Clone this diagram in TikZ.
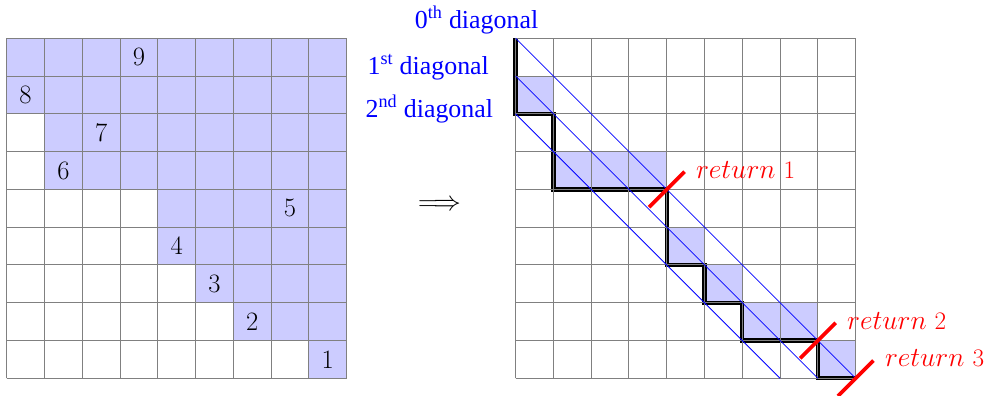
\documentclass[tikz,border=0pt]{standalone}
\usepackage{fontspec}
\newfontfamily\timesf{Liberation Serif}
\begin{document}
\begin{tikzpicture}[x=1cm,y=1cm,
  cellfill/.style={fill=blue!20},
  gridline/.style={draw=gray, line width=0.7pt},
  num/.style={font=\fontsize{20}{24}\selectfont, inner sep=0pt},
  diaglabel/.style={font=\timesf\fontsize{19.5}{23}\selectfont, text=blue, inner sep=0pt},
  retlabel/.style={text=red, inner sep=0pt, anchor=base west, font=\fontsize{20}{24}\selectfont},
  retmark/.style={draw=red, line width=2.8pt},
  diagline/.style={draw=blue, line width=0.6pt},
  stairpath/.style={draw=black, line width=3.2pt},
]
\useasboundingbox (-0.177,-0.442) rectangle (25.92,10.013);

% ---------- left grid ----------
\foreach \r/\c in {0/0,1/0,2/1,3/1,4/4,5/4,6/5,7/6,8/8}
  \fill[cellfill] (\c,8-\r) rectangle (9,9-\r);
\draw[gridline] (0,0) grid (9,9);
\foreach \n/\c/\r in {9/3/0,8/0/1,7/2/2,6/1/3,5/7/4,4/4/5,3/5/6,2/6/7,1/8/8}
  \node[num] (n\n) at (\c+0.5,8.5-\r) {\n};

% ---------- arrow ----------
\node[num] (implies) at (11.455,4.587) {$\Longrightarrow$};

% ---------- right grid ----------
\begin{scope}[xshift=13.47cm]
  \fill[cellfill] (0,7) rectangle (1,8);
  \fill[cellfill] (1,5) rectangle (4,6);
  \fill[cellfill] (4,3) rectangle (5,4);
  \fill[cellfill] (5,2) rectangle (6,3);
  \fill[cellfill] (6,1) rectangle (8,2);
  \fill[cellfill] (8,0) rectangle (9,1);
  \draw[stairpath] (0,9) -- (0,7) -- (1,7) -- (1,5) -- (4,5) -- (4,3) -- (5,3)
    -- (5,2) -- (6,2) -- (6,1) -- (8,1) -- (8,0) -- (9,0);
  \draw[gridline] (0,0) grid (9,9);
  \draw[diagline] (0,9) -- (9,0);
  \draw[diagline] (0,8) -- (8,0);
  \draw[diagline] (0,7) -- (7,0);
  \coordinate (c1) at (4,5);
  \coordinate (c2) at (8,1);
  \coordinate (c3) at (9,0);
  \foreach \k in {1,2,3}
    \draw[retmark] ([shift={(-0.47,-0.47)}]c\k) -- ([shift={(0.47,0.47)}]c\k);
  \foreach \k in {1,2,3}
    \node[retlabel] (ret\k) at ([shift={(0.77,0.3)}]c\k) {$return$ {\fontsize{19}{22}\selectfont \k}};
\end{scope}

% ---------- diagonal labels ----------
\node[diaglabel, anchor=base] (d0) at (12.435,9.27) {0\textsuperscript{th} diagonal};
\node[diaglabel, anchor=base east] (d1) at (12.77,8.05) {1\textsuperscript{st} diagonal};
\node[diaglabel, anchor=base east] (d2) at (12.88,6.89) {2\textsuperscript{nd} diagonal};
\end{tikzpicture}
\end{document}
